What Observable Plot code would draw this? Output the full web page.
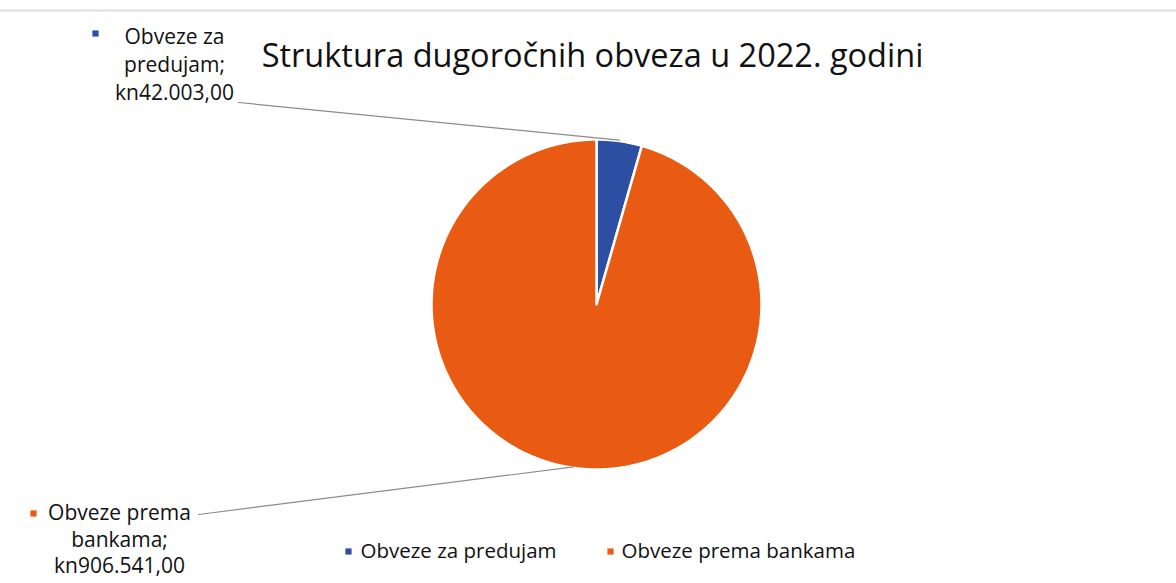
<!DOCTYPE html>
<html><head><meta charset="utf-8">
<script src="https://cdn.jsdelivr.net/npm/d3@7"></script>
<script src="https://cdn.jsdelivr.net/npm/@observablehq/plot@0.6"></script>
<style>html,body{margin:0;padding:0;background:#fff;overflow:hidden} svg{display:block}</style>
</head><body><div id="chart"></div>
<script>
const title = "Struktura dugoročnih obveza u 2022. godini";
const categories = ["Obveze za predujam", "Obveze prema bankama"];
const values = [42003, 906541];
const colors = ["#2C4FA3", "#E95A12"];
const labelHead = [["Obveze za", "predujam;"], ["Obveze prema", "bankama;"]];
const currency = "kn";

const W = 1176, H = 583;
const cx = 596, cy = 304, r = 165;
const FONT = "Open Sans, sans-serif";
const fmt = d3.formatLocale({decimal: ",", thousands: ".", grouping: [3], currency: ["", ""]}).format(",.2f");

// pie geometry derived from values
const arcs = d3.pie().sort(null)(values);
const slices = [];
arcs.forEach((a, i) => {
  slices.push({k: categories[i], x: cx, y: cy});
  const n = Math.max(4, Math.ceil((a.endAngle - a.startAngle) / 0.01));
  for (let j = 0; j <= n; j++) {
    const t = a.startAngle + (a.endAngle - a.startAngle) * j / n;
    slices.push({k: categories[i], x: cx + r * Math.sin(t), y: cy - r * Math.cos(t)});
  }
});
const mid = arcs.map(a => (a.startAngle + a.endAngle) / 2);
const arcMid = mid.map(t => ({x: cx + r * Math.sin(t), y: cy - r * Math.cos(t)}));

// label layout
const labelLayout = [
  {x: 174, ys: [37, 65, 93], bx: 95, by: 33, lx: 238, ly: 102},
  {x: 119, ys: [513, 540, 566], bx: 33, by: 513, lx: 198, ly: 514}
];
const labelTexts = [];
const bullets = [];
const leaders = [];
categories.forEach((c, i) => {
  const L = labelLayout[i];
  const lines = [...labelHead[i], currency + fmt(values[i])];
  lines.forEach((s, j) => labelTexts.push({x: L.x, y: L.ys[j], s}));
  bullets.push({x: L.bx, y: L.by, k: c});
  leaders.push({x: L.lx, y: L.ly, k: c}, {x: arcMid[i].x, y: arcMid[i].y - 1, k: c});
});

const legendLayout = [{x: 348, tx: 360}, {x: 610, tx: 621}];
const legendItems = categories.map((c, i) => ({x: legendLayout[i].x, tx: legendLayout[i].tx, y: 551, k: c}));

const plot = Plot.plot({
  width: W, height: H,
  margin: 0,
  style: {fontFamily: FONT, background: "#fff"},
  x: {domain: [0, W], axis: null},
  y: {domain: [0, H], reverse: true, axis: null},
  color: {domain: categories, range: colors},
  marks: [
    Plot.ruleY([10], {stroke: "#dcdcdc", strokeWidth: 2}),
    Plot.line(slices, {x: "x", y: "y", z: "k", fill: "k", stroke: "#fff", strokeWidth: 2.5, curve: "linear-closed", strokeLinejoin: "round"}),
    Plot.line(leaders, {x: "x", y: "y", z: "k", stroke: "#8c8c8c", strokeWidth: 1.2}),
    Plot.text([title], {x: 592, y: 56, text: d => d, fontSize: 32.5, fill: "#111", textAnchor: "middle"}),
    Plot.text(labelTexts, {x: "x", y: "y", text: "s", fontSize: 21, fill: "#111", textAnchor: "middle"}),
    Plot.dot(bullets, {x: "x", y: "y", fill: "k", symbol: "square", r: 3.5}),
    Plot.dot(legendItems, {x: "x", y: "y", fill: "k", symbol: "square", r: 3.5}),
    Plot.text(legendItems, {x: "tx", y: "y", text: "k", fontSize: 20.5, fill: "#111", textAnchor: "start"})
  ]
});
document.getElementById("chart").append(plot);
</script>
</body></html>
